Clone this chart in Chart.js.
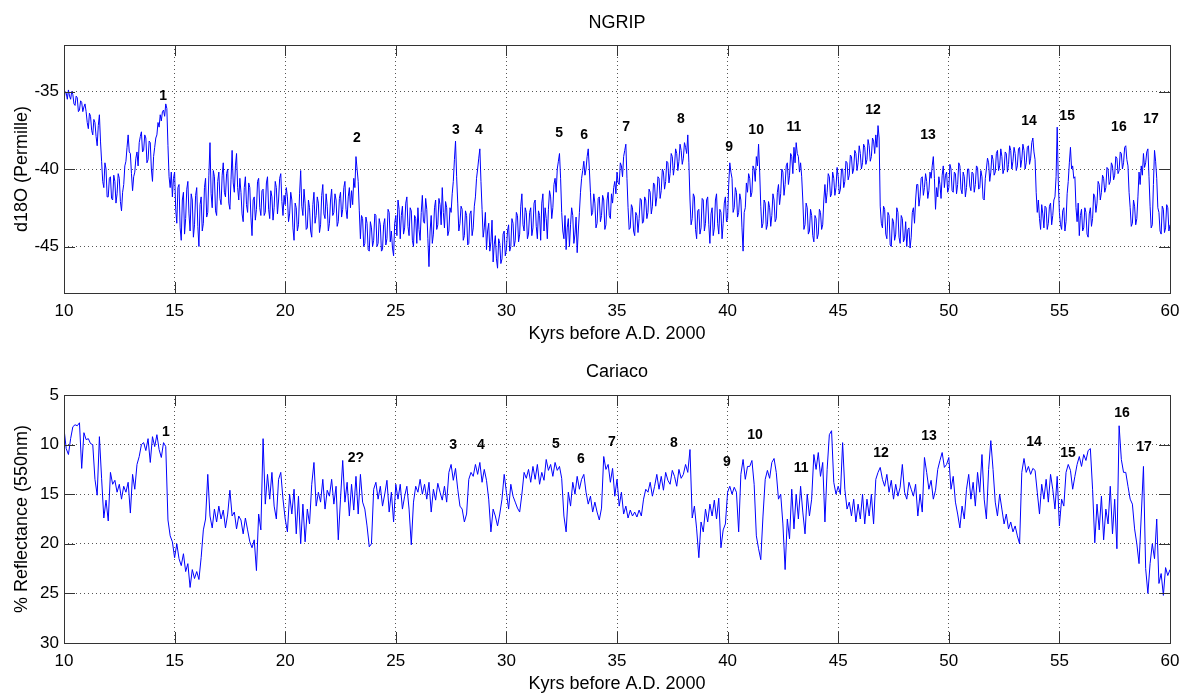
<!DOCTYPE html>
<html lang="en">
<head>
<meta charset="UTF-8">
<title>NGRIP / Cariaco</title>
<script src="https://cdn.jsdelivr.net/npm/chart.js@4.4.0/dist/chart.umd.min.js"></script>
<style>
  html, body { margin: 0; padding: 0; background: #fff; }
  canvas { display: block; }
</style>
</head>
<body>
<canvas id="ngrip" width="1182" height="346"></canvas>
<canvas id="cariaco" width="1182" height="347"></canvas>

<script>
// ages start at 10 kyr; NGRIP is read every 0.05 kyr, Cariaco every 0.1 kyr
var ageStart = 10;
var ngripStep = 0.05, cariacoStep = 0.1;
var ageTicks = [10, 15, 20, 25, 30, 35, 40, 45, 50, 55, 60];

// NGRIP d18O (permille), one row per kyr
var ngripD18O = [
  -35.6,-35.0,-35.1,-35.5,-34.9,-35.3,-35.5,-35.0,-35.2,-35.8,-35.9,-35.3,-35.4,-36.3,-36.2,-35.6,-35.7,-36.3,-36.0,-35.8,
  -36.3,-37.0,-37.4,-36.4,-36.6,-37.5,-37.8,-36.8,-37.0,-37.9,-38.5,-37.2,-36.5,-38.2,-39.5,-40.8,-41.2,-39.6,-40.0,-41.8,
  -41.8,-40.6,-40.5,-41.9,-42.0,-40.4,-40.8,-42.2,-41.6,-40.3,-40.6,-42.1,-42.7,-41.5,-41.0,-39.8,-39.5,-38.6,-37.8,-38.9,
  -39.0,-40.3,-41.4,-40.5,-40.2,-39.3,-38.9,-39.8,-38.3,-37.9,-37.6,-38.9,-38.8,-37.8,-38.0,-39.6,-39.4,-38.2,-38.3,-40.0,
  -40.8,-39.2,-38.6,-38.0,-37.8,-37.0,-37.3,-36.5,-36.9,-36.3,-36.2,-36.6,-35.8,-36.1,-38.5,-40.5,-41.2,-40.2,-41.8,-40.6,
  -40.2,-42.6,-43.5,-41.2,-41.0,-43.8,-44.6,-42.0,-41.5,-44.2,-43.2,-41.3,-40.8,-42.9,-44.0,-41.6,-42.0,-44.4,-43.6,-41.7,
  -41.2,-43.7,-45.0,-42.3,-41.8,-44.0,-43.5,-41.2,-40.6,-43.1,-42.8,-40.4,-38.3,-41.6,-42.5,-40.1,-40.5,-42.7,-43.0,-40.8,
  -40.2,-41.9,-42.3,-40.4,-39.6,-41.5,-41.8,-40.3,-40.0,-42.2,-42.6,-40.7,-38.8,-40.9,-41.5,-39.8,-39.0,-41.2,-42.0,-40.6,
  -41.5,-42.9,-43.4,-41.2,-40.5,-42.3,-42.8,-40.9,-41.2,-43.1,-44.3,-42.0,-41.8,-43.3,-42.6,-40.8,-40.6,-42.5,-43.0,-41.4,
  -41.3,-43.0,-42.8,-40.9,-40.5,-42.6,-43.2,-41.4,-41.8,-43.3,-42.5,-40.8,-41.2,-42.9,-42.0,-40.6,-40.3,-42.1,-43.0,-41.7,
  -42.3,-41.2,-41.8,-43.4,-42.9,-41.5,-42.0,-43.8,-44.6,-42.2,-42.5,-44.0,-43.6,-41.6,-40.1,-42.4,-43.0,-41.3,-42.2,-43.9,
  -43.8,-42.0,-42.5,-44.0,-44.4,-42.3,-41.5,-43.5,-43.0,-41.8,-42.2,-44.1,-43.6,-41.7,-41.0,-42.9,-43.2,-41.6,-42.4,-44.0,
  -43.5,-42.0,-41.3,-43.0,-42.8,-41.6,-42.0,-43.7,-43.4,-41.9,-41.5,-43.1,-42.6,-41.2,-40.8,-42.6,-43.2,-41.8,-41.2,-42.5,
  -41.4,-42.3,-40.6,-41.2,-39.2,-40.0,-40.8,-42.7,-44.5,-43.0,-43.2,-45.0,-44.8,-43.1,-43.5,-45.2,-45.3,-43.4,-43.8,-45.0,
  -44.6,-42.9,-43.0,-45.0,-44.8,-43.2,-43.6,-45.3,-45.2,-43.6,-43.2,-44.9,-44.5,-42.6,-42.8,-44.7,-44.0,-45.1,-45.6,-43.5,
  -43.0,-44.3,-42.0,-42.6,-44.5,-43.0,-42.4,-44.2,-43.8,-42.2,-41.8,-43.7,-44.3,-42.5,-42.7,-44.6,-45.0,-43.0,-43.2,-44.8,
  -42.5,-43.9,-44.6,-42.8,-41.7,-43.4,-43.5,-41.9,-42.6,-44.5,-46.3,-44.0,-43.0,-44.8,-44.2,-42.5,-42.0,-43.9,-43.6,-41.9,
  -42.3,-43.6,-41.2,-42.8,-43.8,-42.1,-42.5,-44.3,-44.0,-42.5,-42.8,-41.6,-40.8,-39.4,-38.2,-40.5,-42.2,-44.0,-43.5,-42.4,
  -42.6,-44.6,-44.3,-42.7,-43.0,-44.9,-44.8,-42.9,-42.7,-44.3,-43.8,-42.4,-41.8,-40.6,-40.0,-39.3,-38.7,-40.8,-42.6,-44.4,
  -43.8,-42.8,-45.2,-44.0,-43.5,-45.3,-44.7,-43.3,-46.0,-44.9,-44.3,-45.8,-46.4,-44.5,-44.8,-46.1,-45.8,-44.2,-44.0,-45.6,
  -45.2,-44.0,-43.6,-45.3,-45.0,-43.2,-43.5,-45.0,-44.6,-42.8,-43.0,-44.7,-44.2,-42.4,-41.6,-43.6,-44.0,-42.5,-42.8,-44.5,
  -44.2,-42.8,-42.5,-44.3,-43.8,-42.2,-42.0,-43.7,-44.5,-42.7,-43.0,-44.6,-42.2,-41.6,-44.0,-42.5,-43.2,-44.5,-42.6,-41.4,
  -41.8,-43.2,-42.5,-41.0,-40.6,-41.5,-40.0,-39.5,-39.0,-40.6,-42.8,-44.0,-44.5,-43.0,-45.2,-43.8,-43.2,-45.0,-43.6,-42.5,
  -43.0,-44.8,-44.2,-43.1,-45.4,-44.0,-42.8,-41.5,-40.6,-40.1,-39.5,-40.4,-40.0,-39.2,-38.7,-40.0,-41.5,-43.0,-42.8,-41.6,
  -42.2,-43.8,-43.5,-41.9,-41.8,-43.4,-43.0,-41.7,-42.0,-43.9,-43.6,-42.0,-41.5,-43.0,-43.2,-41.6,-42.2,-41.2,-40.8,-41.6,
  -40.2,-40.9,-41.0,-39.6,-39.8,-40.5,-39.2,-38.8,-38.4,-40.6,-42.5,-43.9,-43.8,-42.3,-42.5,-44.0,-44.3,-42.8,-43.0,-44.1,
  -43.2,-41.9,-42.0,-43.5,-43.4,-41.8,-42.0,-43.2,-42.8,-41.3,-41.5,-42.9,-42.4,-40.9,-41.0,-42.4,-41.8,-40.5,-40.6,-41.9,
  -41.4,-40.0,-40.2,-41.3,-40.8,-39.5,-39.6,-40.9,-40.3,-39.0,-39.2,-40.4,-39.8,-38.7,-39.0,-40.1,-39.5,-38.4,-38.8,-39.7,
  -39.3,-38.3,-38.6,-39.0,-37.8,-39.6,-42.0,-43.6,-43.2,-41.6,-41.8,-43.9,-44.5,-42.7,-42.6,-44.2,-43.8,-41.9,-42.0,-44.0,
  -43.5,-42.0,-41.8,-43.6,-44.8,-42.9,-42.5,-44.3,-43.8,-42.0,-41.6,-43.5,-44.2,-42.6,-42.8,-44.5,-43.5,-42.2,-41.8,-43.4,
  -43.2,-41.0,-39.6,-40.2,-40.6,-42.8,-42.5,-41.2,-41.5,-43.1,-42.8,-41.6,-42.0,-43.8,-45.3,-42.8,-42.5,-40.9,-41.5,-40.3,
  -40.6,-41.8,-41.5,-39.8,-40.0,-40.8,-39.2,-39.8,-38.4,-40.2,-42.4,-43.8,-43.5,-42.0,-42.2,-43.9,-43.6,-42.1,-42.5,-43.7,
  -43.0,-41.6,-42.0,-43.4,-43.2,-41.5,-41.0,-42.3,-41.6,-40.0,-40.2,-41.7,-41.0,-39.8,-39.6,-41.0,-40.4,-39.0,-39.2,-40.3,
  -38.6,-39.6,-38.3,-39.0,-39.2,-40.2,-39.6,-40.5,-42.0,-43.9,-43.6,-42.2,-42.5,-44.2,-44.0,-42.6,-43.0,-44.3,-44.7,-43.0,
  -43.2,-44.5,-44.2,-42.6,-42.8,-43.9,-43.6,-42.0,-41.0,-42.2,-41.5,-40.3,-40.5,-41.8,-41.6,-40.2,-40.6,-41.7,-41.2,-39.9,
  -40.5,-41.6,-41.3,-40.0,-40.0,-41.2,-40.8,-39.5,-39.6,-40.7,-40.4,-39.1,-39.2,-40.3,-40.0,-38.8,-39.0,-40.1,-39.6,-38.5,
  -39.0,-40.0,-39.6,-38.4,-38.6,-39.7,-39.4,-38.1,-38.5,-39.5,-39.2,-38.0,-38.2,-39.0,-37.8,-38.6,-37.2,-38.0,-42.4,-43.5,
  -43.8,-42.4,-42.6,-44.2,-44.5,-42.8,-43.0,-44.9,-45.0,-43.2,-43.4,-44.6,-44.2,-42.5,-42.8,-44.4,-44.8,-43.0,-43.2,-44.7,
  -44.5,-43.4,-45.0,-43.9,-43.8,-45.1,-44.4,-42.8,-42.5,-43.5,-42.0,-41.0,-41.0,-42.4,-41.8,-40.6,-40.5,-41.7,-41.2,-40.3,
  -40.8,-41.9,-41.4,-40.2,-40.6,-39.8,-39.2,-40.6,-42.6,-41.2,-41.8,-40.5,-41.0,-41.9,-40.4,-39.8,-41.2,-40.4,-40.2,-41.5,
  -41.2,-39.7,-40.0,-41.4,-41.5,-40.2,-40.3,-41.6,-41.0,-39.6,-39.8,-41.3,-41.6,-40.2,-40.5,-41.8,-41.2,-40.0,-40.0,-41.1,
  -41.4,-40.2,-40.3,-41.5,-41.0,-39.8,-39.9,-41.3,-41.2,-40.1,-40.5,-41.9,-42.0,-40.6,-40.0,-39.3,-39.6,-40.8,-40.2,-39.1,
  -39.4,-40.4,-40.2,-39.0,-38.8,-40.1,-39.8,-38.7,-39.2,-40.3,-40.0,-38.9,-39.0,-40.2,-39.7,-38.5,-38.8,-40.0,-39.5,-38.6,
  -39.0,-40.1,-39.8,-38.7,-38.6,-39.9,-39.4,-38.4,-38.8,-40.0,-39.6,-38.6,-38.5,-39.7,-39.3,-38.3,-38.0,-38.9,-39.4,-41.5,
  -42.8,-42.0,-43.2,-43.9,-42.3,-42.9,-43.8,-42.4,-42.5,-43.9,-43.5,-42.4,-42.2,-43.6,-43.0,-42.0,-41.8,-40.5,-37.3,-40.8,
  -42.8,-43.6,-43.9,-42.7,-42.5,-44.0,-43.4,-41.6,-40.8,-39.6,-38.6,-40.0,-39.8,-40.6,-40.5,-42.5,-43.4,-42.2,-44.3,-43.0,
  -42.6,-44.0,-43.8,-42.5,-42.8,-44.2,-44.4,-42.9,-42.5,-43.7,-43.2,-41.6,-41.8,-42.8,-42.2,-40.8,-41.0,-42.0,-41.5,-40.4,
  -40.6,-41.5,-41.2,-39.9,-40.0,-41.0,-40.8,-39.6,-39.8,-40.7,-40.4,-39.2,-39.3,-40.3,-40.1,-38.9,-39.0,-40.0,-39.6,-38.6,
  -38.5,-39.4,-39.8,-41.5,-42.5,-43.7,-43.5,-42.0,-42.4,-43.6,-43.2,-41.8,-40.2,-41.0,-39.8,-40.4,-39.0,-39.9,-39.6,-38.9,
  -38.7,-40.5,-42.4,-43.8,-43.6,-41.0,-38.8,-39.5,-40.6,-42.5,-42.8,-44.0,-44.2,-42.4,-42.6,-44.1,-43.8,-42.3,-42.5,-44.0,
  -43.6
];
var ngripTicks = [-45, -40, -35];

// Cariaco % reflectance (550 nm), one row per kyr
var cariacoRefl = [
  8.4,10.4,11.0,9.4,8.2,8.0,8.1,7.8,12.4,8.8,
  9.5,9.4,9.9,10.0,13.5,15.1,9.2,13.4,17.4,15.6,
  17.7,12.8,14.0,13.6,14.8,14.0,15.5,14.2,14.8,13.8,
  16.9,13.0,14.5,12.0,11.2,10.0,9.8,10.6,9.4,11.8,
  9.2,10.2,9.0,10.5,11.3,9.8,10.2,17.6,19.2,19.8,
  21.4,20.0,21.5,22.2,21.0,22.8,22.0,24.4,22.6,23.5,
  22.8,23.6,21.4,18.6,17.5,13.0,17.2,18.4,16.5,17.8,
  16.2,17.5,16.6,18.4,17.0,14.6,17.2,16.8,18.5,17.2,
  17.6,19.0,17.4,18.6,19.8,20.4,19.6,22.7,17.0,18.6,
  9.4,16.0,13.0,15.5,12.8,16.2,17.5,13.5,12.8,15.5,
  17.5,18.8,15.0,17.0,14.5,19.0,15.2,20.0,16.0,19.8,
  16.5,18.0,14.0,11.8,16.2,14.8,15.8,13.5,16.5,14.6,
  15.2,13.5,16.0,14.2,19.6,15.5,11.6,15.8,13.8,17.2,
  14.0,16.6,13.2,17.0,13.0,15.8,16.5,18.2,20.3,20.0,
  14.5,13.8,15.5,14.2,16.2,15.0,13.6,16.8,14.8,17.8,
  14.0,15.5,14.0,16.5,15.2,14.2,16.5,20.1,15.8,14.2,
  14.8,13.5,15.0,14.0,15.5,13.8,16.8,14.5,15.6,13.9,
  14.8,15.6,14.2,15.8,12.8,12.0,13.6,12.4,14.5,16.2,
  16.5,17.8,17.0,13.5,12.8,13.2,12.0,13.0,11.8,13.8,
  12.5,13.6,15.5,18.8,16.5,17.2,18.2,17.0,15.5,13.0,
  14.8,16.5,14.0,15.2,15.8,16.4,16.8,15.0,12.8,13.4,
  12.5,13.8,12.2,13.5,12.0,14.0,12.8,13.6,11.5,12.6,
  12.0,13.2,11.8,12.6,12.2,13.4,17.2,18.8,14.8,16.2,
  13.8,15.0,13.2,14.5,13.5,13.0,14.8,16.0,15.2,16.8,
  15.8,16.8,17.6,16.4,11.2,12.5,12.0,13.8,12.4,15.2,
  13.5,16.2,14.8,17.0,16.2,17.4,16.6,17.2,16.8,17.3,
  16.6,17.2,15.5,14.5,14.8,13.8,15.2,14.2,13.0,14.5,
  13.2,14.6,12.8,13.6,14.0,12.6,13.2,14.2,12.5,13.4,
  13.0,12.0,12.8,10.5,17.4,16.2,18.5,21.4,17.8,18.8,
  16.5,17.8,16.0,17.2,15.6,17.5,15.4,20.4,18.6,18.0,
  14.8,14.2,15.0,14.3,14.8,18.8,13.0,11.5,13.5,12.2,
  12.2,11.6,14.0,19.2,20.5,21.6,17.2,13.5,12.6,13.4,
  11.8,11.4,12.8,15.5,15.0,18.0,22.6,17.5,19.5,14.5,
  18.5,15.0,17.5,14.2,16.8,19.0,15.0,17.2,15.5,11.0,
  12.5,10.8,13.2,11.8,17.8,12.5,9.0,8.6,13.8,15.0,
  14.2,15.0,9.8,14.5,16.5,15.8,17.2,15.5,17.8,16.0,
  17.5,15.0,18.0,15.5,17.2,15.0,18.0,13.5,12.8,12.3,
  13.5,14.2,13.0,14.8,13.6,15.5,14.0,15.2,14.3,12.0,
  14.8,15.5,13.8,14.5,15.2,14.0,17.2,15.0,16.8,11.3,
  12.8,14.5,13.6,15.5,14.6,12.5,11.6,10.8,12.3,12.0,
  11.3,14.5,13.2,15.8,17.0,18.4,16.2,17.5,14.5,13.0,
  15.5,13.8,16.2,12.8,14.8,11.0,15.5,17.5,12.5,9.6,
  12.5,15.8,17.2,15.0,16.5,18.0,17.0,18.5,17.8,18.8,
  18.2,19.2,20.0,12.8,11.4,12.8,12.2,13.0,12.4,12.6,
  14.8,17.0,14.0,15.5,13.5,15.8,13.0,14.5,16.5,13.2,
  18.2,15.5,16.2,12.8,12.0,12.6,14.5,13.2,12.0,11.2,
  12.2,11.0,11.6,10.6,10.4,14.5,19.9,16.0,18.6,15.2,
  19.6,16.5,18.0,14.2,19.0,15.5,20.5,8.1,11.5,12.8,
  12.8,14.2,15.5,16.0,18.5,20.0,22.0,17.2,12.2,22.5,
  25.0,22.0,20.0,21.5,17.5,24.0,23.0,25.2,22.4,23.2,
  22.6
];
var cariacoTicks = [5, 10, 15, 20, 25, 30];

// interstadial numbers and where they are written
var ngripEventNames = ['1','2','3','4','5','6','7','8','9','10','11','12','13','14','15','16','17'];
var ngripEventAges  = [14.48,23.24,27.72,28.76,32.38,33.51,35.41,37.89,40.07,41.29,43.00,46.57,49.06,53.63,55.35,57.69,59.14];
var ngripEventVals  = [-35.3,-38.0,-37.5,-37.5,-37.7,-37.8,-37.3,-36.8,-38.6,-37.5,-37.3,-36.2,-37.8,-36.9,-36.6,-37.3,-36.8];

var cariacoEventNames = ['1','2?','3','4','5','6','7','8','9','10','11','12','13','14','15','16','17'];
var cariacoEventAges  = [14.61,23.20,27.59,28.85,32.24,33.37,34.77,37.57,39.97,41.24,43.32,46.94,49.11,53.85,55.39,57.83,58.83];
var cariacoEventVals  = [8.7,11.4,10.1,10.1,10.0,11.5,9.8,9.9,11.8,9.0,12.4,10.9,9.1,9.8,10.9,6.8,10.3];

Chart.defaults.font.family = '"Liberation Sans", Arial, Helvetica, sans-serif';
Chart.defaults.color = '#000';

var boxPlugin = {
  id: 'box',
  afterDraw: function (chart) {
    var a = chart.chartArea, ctx = chart.ctx, x = chart.scales.x, y = chart.scales.y, len = 11;
    ctx.save();
    ctx.strokeStyle = '#333';
    ctx.lineWidth = 1;
    ctx.beginPath();
    x.ticks.forEach(function (t) {
      var px = Math.round(x.getPixelForValue(t.value)) + 0.5;
      ctx.moveTo(px, a.top); ctx.lineTo(px, a.top + len);
      ctx.moveTo(px, a.bottom); ctx.lineTo(px, a.bottom - len);
    });
    y.ticks.forEach(function (t) {
      var py = Math.round(y.getPixelForValue(t.value)) + 0.5;
      ctx.moveTo(a.left, py); ctx.lineTo(a.left + len, py);
      ctx.moveTo(a.right, py); ctx.lineTo(a.right - len, py);
    });
    ctx.stroke();
    ctx.strokeRect(Math.round(a.left) + 0.5, Math.round(a.top) + 0.5,
                   Math.round(a.right - a.left), Math.round(a.bottom - a.top));
    ctx.restore();
  }
};

var eventPlugin = {
  id: 'eventLabels',
  afterDatasetsDraw: function (chart, args, opts) {
    var ctx = chart.ctx, x = chart.scales.x, y = chart.scales.y;
    ctx.save();
    ctx.font = 'bold 14px "Liberation Sans", Arial, sans-serif';
    ctx.fillStyle = '#000';
    ctx.textAlign = 'center';
    ctx.textBaseline = 'middle';
    opts.names.forEach(function (n, i) {
      ctx.fillText(n, x.getPixelForValue(opts.ages[i]), y.getPixelForValue(opts.vals[i]));
    });
    ctx.restore();
  }
};

function makeChart(id, cfg) {
  var points = cfg.values.map(function (v, i) {
    return { x: +(ageStart + i * cfg.step).toFixed(2), y: v };
  });
  var gridOpts = { color: '#555', lineWidth: 1, drawTicks: false };
  var borderOpts = { display: false, dash: [1, 3] };

  return new Chart(document.getElementById(id), {
    type: 'line',
    data: {
      datasets: [{
        data: points,
        borderColor: '#0000ff',
        borderWidth: 1,
        pointRadius: 0,
        fill: false,
        tension: 0
      }]
    },
    options: {
      responsive: false,
      animation: false,
      events: [],
      layout: { padding: { left: 0, right: 12, top: 0, bottom: 0 } },
      plugins: {
        legend: { display: false },
        tooltip: { enabled: false },
        title: {
          display: true,
          text: cfg.title,
          fullSize: false,
          color: '#000',
          font: { size: 18, weight: 'normal' },
          padding: cfg.titlePad
        },
        eventLabels: cfg.events
      },
      scales: {
        x: {
          type: 'linear',
          min: 10,
          max: 60,
          afterBuildTicks: function (s) { s.ticks = ageTicks.map(function (v) { return { value: v }; }); },
          afterFit: function (s) {
            s.height = cfg.xHeight;
            s.paddingLeft = 0;
            s.paddingRight = 0;
          },
          ticks: { font: { size: 17 }, padding: 8, maxRotation: 0, color: '#000' },
          grid: gridOpts,
          border: borderOpts,
          title: {
            display: true,
            text: 'Kyrs before A.D. 2000',
            color: '#000',
            font: { size: 18, lineHeight: 1 },
            padding: { top: 0, bottom: cfg.xTitleBottom }
          }
        },
        y: {
          type: 'linear',
          min: cfg.yMin,
          max: cfg.yMax,
          reverse: cfg.reverse,
          afterBuildTicks: function (s) { s.ticks = cfg.yTicks.map(function (v) { return { value: v }; }); },
          afterFit: function (s) { s.width = 64; },
          ticks: { font: { size: 17 }, padding: 5, color: '#000' },
          grid: gridOpts,
          border: borderOpts,
          title: {
            display: true,
            text: cfg.yLabel,
            color: '#000',
            font: { size: 18 },
            padding: { top: 11, bottom: 0 }
          }
        }
      }
    },
    plugins: [boxPlugin, eventPlugin]
  });
}

makeChart('ngrip', {
  title: 'NGRIP',
  titlePad: { top: 12, bottom: 11.4 },
  values: ngripD18O,
  step: ngripStep,
  yMin: -48, yMax: -32, reverse: false,
  yTicks: ngripTicks,
  yLabel: 'd18O (Permille)',
  xHeight: 53,
  xTitleBottom: 3,
  events: { names: ngripEventNames, ages: ngripEventAges, vals: ngripEventVals }
});

makeChart('cariaco', {
  title: 'Cariaco',
  titlePad: { top: 15.7, bottom: 11.7 },
  values: cariacoRefl,
  step: cariacoStep,
  yMin: 5, yMax: 30, reverse: true,
  yTicks: cariacoTicks,
  yLabel: '% Reflectance (550nm)',
  xHeight: 50,
  xTitleBottom: 0,
  events: { names: cariacoEventNames, ages: cariacoEventAges, vals: cariacoEventVals }
});
</script>
</body>
</html>
